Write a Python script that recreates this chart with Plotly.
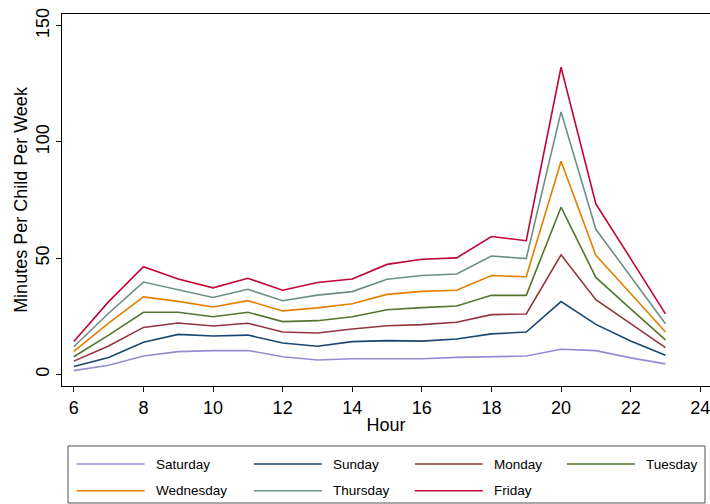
import plotly.graph_objects as go

# Hour of day
hours = [6, 7, 8, 9, 10, 11, 12, 13, 14, 15, 16, 17, 18, 19, 20, 21, 22, 23]

# Cumulative minutes per child per week: each line adds its day on top of the days below it
saturday  = [1.6, 3.9, 7.9, 9.8, 10.2, 10.3, 7.6, 6.2, 6.7, 6.7, 6.7, 7.3, 7.5, 7.9, 10.8, 10.2, 7.1, 4.5]
sunday    = [3.4, 7.3, 13.8, 17.2, 16.5, 16.9, 13.5, 12.1, 14.1, 14.5, 14.3, 15.2, 17.4, 18.2, 31.3, 21.5, 14.4, 8.2]
monday    = [5.7, 12.2, 20.2, 22.1, 20.8, 22.0, 18.2, 17.8, 19.5, 20.9, 21.4, 22.4, 25.7, 26.0, 51.4, 32.1, 21.8, 11.5]
tuesday   = [7.6, 16.9, 26.7, 26.7, 24.8, 26.7, 22.7, 23.1, 24.8, 27.8, 28.7, 29.4, 34.0, 34.0, 71.9, 41.7, 28.2, 14.8]
wednesday = [9.9, 22.0, 33.3, 31.4, 29.0, 31.7, 27.3, 28.6, 30.4, 34.4, 35.7, 36.2, 42.5, 42.0, 91.7, 51.2, 34.8, 18.2]
thursday  = [11.9, 26.3, 39.7, 36.3, 33.1, 36.6, 31.7, 34.1, 35.6, 40.9, 42.5, 43.2, 50.9, 49.8, 112.9, 62.4, 42.0, 21.8]
friday    = [14.1, 31.3, 46.3, 41.0, 37.2, 41.3, 36.2, 39.5, 41.0, 47.3, 49.5, 50.1, 59.3, 57.5, 132.1, 73.3, 49.8, 26.0]

day_names = ["Saturday", "Sunday", "Monday", "Tuesday", "Wednesday", "Thursday", "Friday"]
day_series = [saturday, sunday, monday, tuesday, wednesday, thursday, friday]
day_colors = ["rgb(147,141,210)", "rgb(26,71,111)", "rgb(144,53,59)", "rgb(85,117,47)",
              "rgb(227,126,0)", "rgb(110,142,132)", "rgb(193,5,52)"]

y_ticks = [0, 50, 100, 150]
x_ticks = [6, 8, 10, 12, 14, 16, 18, 20, 22, 24]

FONT = "Liberation Sans, Arial, sans-serif"
W, H = 710, 504
ML, MR, MT, MB = 62, 0, 14, 118
PW, PH = W - ML - MR, H - MT - MB


def px_x(px):
    return (px - ML) / PW


def px_y(py):
    return (H - MB - py) / PH


fig = go.Figure()
for name, vals, col in zip(day_names, day_series, day_colors):
    fig.add_trace(go.Scatter(x=hours, y=vals, mode="lines", name=name,
                             line=dict(color=col, width=1.6), showlegend=False))

fig.update_layout(
    width=W, height=H,
    margin=dict(l=ML, r=MR, t=MT, b=MB),
    paper_bgcolor="white", plot_bgcolor="white",
    font=dict(family=FONT, size=18, color="black"),
)

fig.update_xaxes(
    range=[5.66, 24.28], tickvals=x_ticks, ticks="outside", ticklen=5,
    tickcolor="black", showline=True, linecolor="black", linewidth=1,
    mirror=True, showgrid=False, zeroline=False, ticklabeloverflow="allow",
    tickfont=dict(size=18), automargin=False,
    title=dict(text="Hour", font=dict(size=18), standoff=1),
)
fig.update_yaxes(
    range=[-5, 155], tickvals=y_ticks, ticks="outside", ticklen=5,
    tickcolor="black", showline=True, linecolor="black", linewidth=1,
    mirror=False, showgrid=False, zeroline=False, tickangle=-90,
    tickfont=dict(size=18), automargin=False,
    title=dict(text="Minutes Per Child Per Week", font=dict(size=18), standoff=0),
)

# Legend panel: two rows of four entries inside a framed box
shapes = [dict(type="rect", xref="paper", yref="paper",
               x0=px_x(68), x1=px_x(705), y0=px_y(503), y1=px_y(446),
               line=dict(color="rgb(80,80,80)", width=1), fillcolor="white")]
annotations = []
col_x = [76.6, 253.8, 414.8, 567.0]
row_y = [464.0, 490.7]
for i, (name, col) in enumerate(zip(day_names, day_colors)):
    cx = col_x[i % 4]
    cy = row_y[i // 4]
    shapes.append(dict(type="line", xref="paper", yref="paper",
                       x0=px_x(cx), x1=px_x(cx + 68), y0=px_y(cy), y1=px_y(cy),
                       line=dict(color=col, width=1.6)))
    annotations.append(dict(xref="paper", yref="paper", x=px_x(cx + 77), y=px_y(cy),
                            text=name, showarrow=False, xanchor="left", yanchor="middle",
                            font=dict(family=FONT, size=13.5, color="black")))

fig.update_layout(shapes=shapes, annotations=annotations)

fig.write_html("out.html")
